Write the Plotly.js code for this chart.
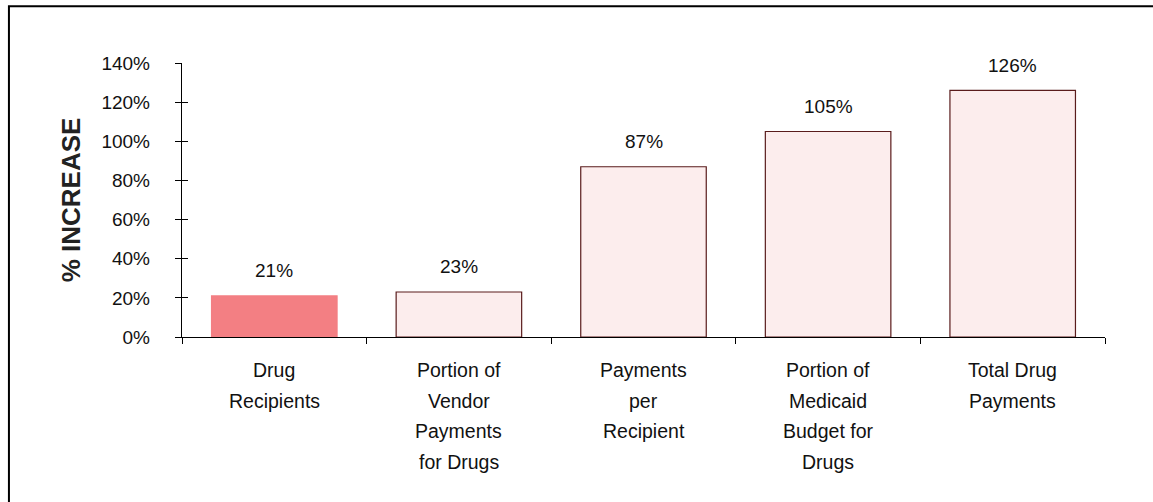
<!DOCTYPE html>
<html>
<head>
<meta charset="utf-8">
<script src="https://cdn.plot.ly/plotly-3.0.1.min.js"></script>
<style>html,body{margin:0;padding:0;background:#fff;}#chart{width:1153px;height:502px;}</style>
</head>
<body>
<div id="chart"></div>
<script>
var categories = ["Drug Recipients", "Portion of Vendor Payments for Drugs", "Payments per Recipient", "Portion of Medicaid Budget for Drugs", "Total Drug Payments"];
var labelLines = [
  ["Drug", "Recipients"],
  ["Portion of", "Vendor", "Payments", "for Drugs"],
  ["Payments", "per", "Recipient"],
  ["Portion of", "Medicaid", "Budget for", "Drugs"],
  ["Total Drug", "Payments"]
];
var values = [21, 23, 87, 105, 126];
var valueLabels = ["21%", "23%", "87%", "105%", "126%"];
var yTickVals = [0, 20, 40, 60, 80, 100, 120, 140];
var yTickText = ["0%", "20%", "40%", "60%", "80%", "100%", "120%", "140%"];

var fillColors = ["#F37F83", "#FCEDED", "#FCEDED", "#FCEDED", "#FCEDED"];
var lineColors = ["#F37F83", "#5A1C1C", "#5A1C1C", "#5A1C1C", "#5A1C1C"];

var FONT = "Arial, Liberation Sans, sans-serif";

var bars = {
  type: "bar",
  x: categories,
  y: values,
  width: 0.68,
  marker: {color: fillColors, line: {color: lineColors, width: 1.2}},
  hoverinfo: "none",
  showlegend: false
};

var annotations = [];
categories.forEach(function(c, i) {
  annotations.push({
    x: c, y: values[i], xref: "x", yref: "y",
    text: valueLabels[i], showarrow: false,
    yanchor: "middle", yshift: 25,
    font: {family: FONT, size: 19, color: "#111"}
  });
  labelLines[i].forEach(function(line, j) {
    annotations.push({
      x: c, y: 0, xref: "x", yref: "paper",
      text: line, showarrow: false,
      yanchor: "middle", yshift: -33 - j * 30.5,
      font: {family: FONT, size: 19.5, color: "#111"}
    });
  });
});

var layout = {
  width: 1153, height: 502,
  margin: {l: 182, r: 48, t: 63, b: 165},
  paper_bgcolor: "#fff", plot_bgcolor: "#fff",
  xaxis: {
    type: "category",
    showticklabels: false,
    tickson: "boundaries",
    ticks: "outside", ticklen: 6, tickcolor: "#000", tickwidth: 1,
    showline: true, linecolor: "#000", linewidth: 1.2,
    showgrid: false, zeroline: false,
    fixedrange: true
  },
  yaxis: {
    range: [0, 140],
    tickvals: yTickVals, ticktext: yTickText,
    ticks: "outside", ticklen: 6, tickcolor: "#000", tickwidth: 1,
    showline: true, linecolor: "#000", linewidth: 1.2,
    showgrid: false, zeroline: false,
    tickfont: {family: FONT, size: 19, color: "#111"},
    ticklabelstandoff: 21,
    title: {text: "<b>% INCREASE</b>", standoff: 13,
      font: {family: FONT, size: 26, color: "#222"}},
    fixedrange: true
  },
  yaxis2: {
    overlaying: "y", range: [0, 140], tickvals: yTickVals,
    ticks: "inside", ticklen: 6, tickcolor: "#000", tickwidth: 1,
    showticklabels: false, showline: false, showgrid: false, zeroline: false,
    side: "left"
  },
  annotations: annotations,
  shapes: [{
    type: "rect", xref: "paper", yref: "paper",
    x0: -0.1875, x1: 1.1, y0: -0.7, y1: 1.207,
    line: {color: "#000", width: 2}, fillcolor: "rgba(0,0,0,0)"
  }]
};

var dummy = {type: "scatter", x: [categories[0]], y: [0], yaxis: "y2", mode: "none", hoverinfo: "none", showlegend: false};

Plotly.newPlot("chart", [bars, dummy], layout, {displayModeBar: false, staticPlot: true});
</script>
</body>
</html>
